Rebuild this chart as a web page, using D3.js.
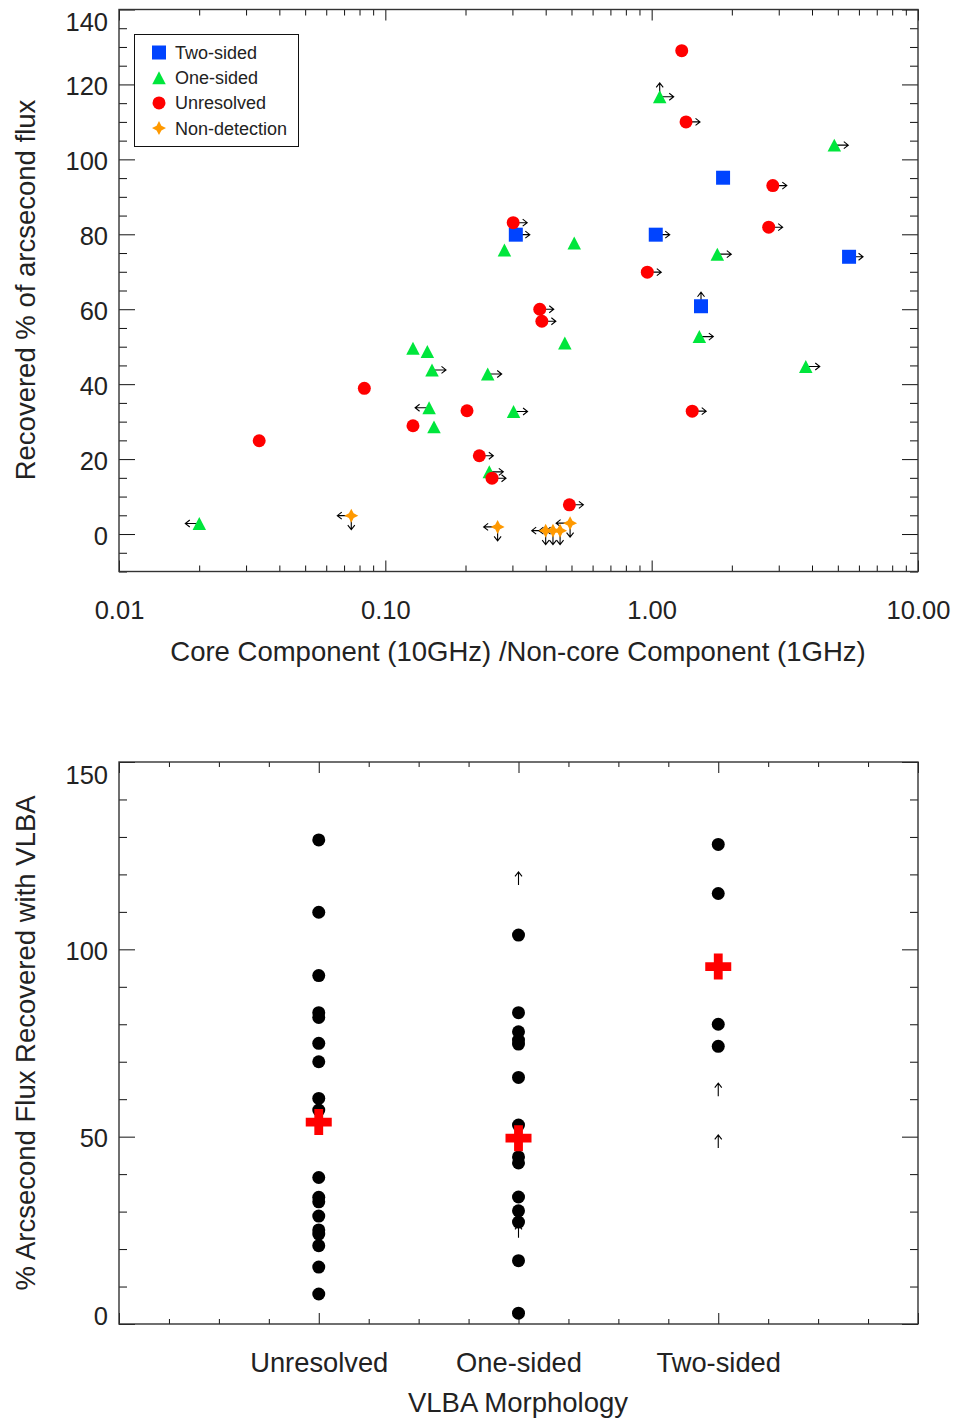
<!DOCTYPE html>
<html><head><meta charset="utf-8">
<script src="https://cdn.jsdelivr.net/npm/d3@7/dist/d3.min.js"></script>
<style>
body{margin:0;background:#fff}
text{font-family:"Liberation Sans",Arial,Helvetica,sans-serif;fill:#222}
</style>
</head><body>
<svg id="chart" width="954" height="1418" xmlns="http://www.w3.org/2000/svg"></svg>
<script>
// ---------------- DATA (top panel) ----------------
// limit flags: r = right arrow, l = left arrow, u = up arrow, d = down arrow
const twoSidedX   = [1.854, 0.309, 1.036, 5.51, 1.532];
const twoSidedY   = [95.1, 79.9, 79.9, 74.0, 60.8];
const twoSidedLim = ["", "r", "r", "r", "u"];

const oneSidedX   = [1.072, 4.85, 0.280, 0.512, 1.764, 0.472, 1.51, 3.79, 0.303, 0.127, 0.1438, 0.1497, 0.2423, 0.146, 0.1523, 0.2457, 0.02002];
const oneSidedY   = [116.7, 103.8, 75.8, 77.7, 74.7, 51.0, 52.7, 44.7, 32.7, 49.6, 48.7, 43.8, 42.7, 33.7, 28.6, 16.6, 2.8];
const oneSidedLim = ["ur", "r", "", "", "r", "", "r", "r", "r", "", "", "r", "r", "l", "", "r", "l"];

const unresolvedX   = [1.297, 1.346, 2.85, 2.75, 0.302, 0.963, 0.380, 0.387, 1.42, 0.491, 0.0834, 0.2026, 0.127, 0.0336, 0.2254, 0.2515];
const unresolvedY   = [129.0, 110.0, 93.0, 81.9, 83.1, 69.9, 60.0, 56.8, 32.8, 7.8, 38.9, 32.9, 28.9, 24.9, 20.9, 14.9];
const unresolvedLim = ["", "r", "r", "r", "r", "r", "r", "r", "r", "r", "", "", "", "", "r", "r"];

const nonDetX   = [0.0745, 0.264, 0.400, 0.426, 0.453, 0.494];
const nonDetY   = [4.9, 1.9, 0.9, 0.9, 0.9, 2.9];
const nonDetLim = ["ld", "ld", "ld", "ld", "ld", "ld"];

const legendLabels = ["Two-sided", "One-sided", "Unresolved", "Non-detection"];
const topXTicks = [0.01, 0.1, 1, 10];
const topYTicks = [0, 20, 40, 60, 80, 100, 120, 140];
const topXTitle = "Core Component (10GHz) /Non-core Component (1GHz)";
const topYTitle = "Recovered % of arcsecond flux";

// ---------------- DATA (bottom panel) ----------------
const categories = ["Unresolved", "One-sided", "Two-sided"];
const unresolvedVals = [129.2, 109.9, 93.0, 83.1, 81.8, 74.9, 70.0, 60.2, 57.1, 39.1, 33.8, 32.6, 28.8, 25.1, 24.0, 20.9, 15.2, 8.0];
const oneSidedVals   = [103.8, 83.1, 78.0, 75.8, 74.7, 65.8, 53.1, 44.6, 43.0, 33.9, 30.2, 27.2, 16.9, 2.9];
const twoSidedVals   = [128.0, 114.9, 80.0, 74.1];
const oneSidedLower  = [117.2, 23.0];
const twoSidedLower  = [60.8, 47.0];
const unresolvedLower = [];
const groupMeans = [53.9, 49.6, 95.4];
const botYTicks = [0, 50, 100, 150];
const botXTitle = "VLBA Morphology";
const botYTitle = "% Arcsecond Flux Recovered with VLBA";

// ---------------- STYLE ----------------
const COL = {two: "#0044ff", one: "#00e63c", unres: "#ff0000", non: "#ff9900"};
const svg = d3.select("#chart");
svg.append("rect").attr("width", 954).attr("height", 1418).attr("fill", "#fff");

// custom symbols
const symSquare = {draw(ctx, s){ const h = s/2; ctx.rect(-h, -h, s, s); }};
const symTri = {draw(ctx, s){ const w = s/2, h = s*0.48; ctx.moveTo(0, -h); ctx.lineTo(w, h); ctx.lineTo(-w, h); ctx.closePath(); }};
const symCircle = {draw(ctx, s){ const r = s/2; ctx.moveTo(r, 0); ctx.arc(0, 0, r, 0, 2*Math.PI); }};
const symStar4 = {draw(ctx, s){ const r = s/2, q = s*0.17; ctx.moveTo(0, -r); ctx.lineTo(q, -q); ctx.lineTo(r, 0); ctx.lineTo(q, q); ctx.lineTo(0, r); ctx.lineTo(-q, q); ctx.lineTo(-r, 0); ctx.lineTo(-q, -q); ctx.closePath(); }};
const symPlus = {draw(ctx, s){ const a = s/2, t = s*0.17; ctx.moveTo(-t, -a); ctx.lineTo(t, -a); ctx.lineTo(t, -t); ctx.lineTo(a, -t); ctx.lineTo(a, t); ctx.lineTo(t, t); ctx.lineTo(t, a); ctx.lineTo(-t, a); ctx.lineTo(-t, t); ctx.lineTo(-a, t); ctx.lineTo(-a, -t); ctx.lineTo(-t, -t); ctx.closePath(); }};
function symPath(type, size){ const p = d3.path(); type.draw(p, size); return p.toString(); }

function arrowPath(x, y, dir, L){
  const v = {r:[1,0], l:[-1,0], u:[0,-1], d:[0,1]}[dir];
  const tx = x + v[0]*L, ty = y + v[1]*L;
  const hb = 4.5, hw = 3.5;
  const bx = tx - v[0]*hb, by = ty - v[1]*hb;
  const px = -v[1]*hw, py = v[0]*hw;
  return `M${x},${y}L${tx},${ty}M${bx+px},${by+py}L${tx},${ty}L${bx-px},${by-py}`;
}

function frameAxes(g, x, y, o){
  const [x0, x1] = x.range(), [y0, y1] = y.range();
  const fmtNone = () => "";
  // bottom
  g.append("g").attr("transform", `translate(0,${y0})`)
    .call(d3.axisBottom(x).tickValues(o.xMinor).tickSizeInner(-o.xMinLen).tickSizeOuter(0).tickFormat(fmtNone));
  const bx = g.append("g").attr("class", "xmaj").attr("transform", `translate(0,${y0})`)
    .call(d3.axisBottom(x).tickValues(o.xMajor).tickSizeInner(-o.xMajLen).tickSizeOuter(0).tickPadding(o.xPad).tickFormat(o.xFmt));
  // top
  g.append("g").attr("transform", `translate(0,${y1})`)
    .call(d3.axisTop(x).tickValues(o.xMinor).tickSizeInner(-o.xMinLen).tickSizeOuter(0).tickFormat(fmtNone));
  g.append("g").attr("transform", `translate(0,${y1})`)
    .call(d3.axisTop(x).tickValues(o.xMajor).tickSizeInner(-o.xMajLen).tickSizeOuter(0).tickFormat(fmtNone));
  // left
  g.append("g").attr("transform", `translate(${x0},0)`)
    .call(d3.axisLeft(y).tickValues(o.yMinor).tickSizeInner(-o.yMinLen).tickSizeOuter(0).tickFormat(fmtNone));
  const ly = g.append("g").attr("class", "ymaj").attr("transform", `translate(${x0},0)`)
    .call(d3.axisLeft(y).tickValues(o.yMajor).tickSizeInner(-o.yMajLen).tickSizeOuter(0).tickPadding(11).tickFormat(d3.format("d")));
  // right
  g.append("g").attr("transform", `translate(${x1},0)`)
    .call(d3.axisRight(y).tickValues(o.yMinor).tickSizeInner(-o.yMinLen).tickSizeOuter(0).tickFormat(fmtNone));
  g.append("g").attr("transform", `translate(${x1},0)`)
    .call(d3.axisRight(y).tickValues(o.yMajor).tickSizeInner(-o.yMajLen).tickSizeOuter(0).tickFormat(fmtNone));
  g.selectAll(".domain").remove();
  g.selectAll(".tick line").attr("stroke", "#111").attr("stroke-width", 1);
  g.selectAll(".tick text").attr("font-family", null).style("fill", "#222");
  bx.selectAll(".tick text").attr("font-size", o.xFont);
  ly.selectAll(".tick text").attr("font-size", 25.5);
  // labels sit slightly below their ticks; edge labels nudged inward like the original plotting package
  const [dMin, dMax] = y.domain();
  ly.selectAll(".tick text").attr("transform", d => d === dMax ? `translate(0,${o.topShift})` : (d === dMin ? `translate(0,${o.botShift})` : "translate(0,2)"));
  g.append("rect").attr("x", x0).attr("y", y1).attr("width", x1 - x0).attr("height", y0 - y1)
    .attr("fill", "none").attr("stroke", "#333").attr("stroke-width", 1.4);
}

// ================= TOP PANEL =================
const xT = d3.scaleLog().domain([0.01, 10]).range([119, 918]);
const yT = d3.scaleLinear().domain([-10, 140]).range([571.5, 9.5]);
const gT = svg.append("g");

const xMinorT = [];
[0.01, 0.1, 1].forEach(d => { for (let k = 2; k <= 9; k++) xMinorT.push(d*k); });
const yMinorT = d3.range(-10, 141, 5).filter(v => v % 20 !== 0);

frameAxes(gT, xT, yT, {
  xMajor: topXTicks, xMinor: xMinorT, xMajLen: 11, xMinLen: 6, xPad: 29, xFmt: d3.format(".2f"), xFont: 25.5,
  yMajor: topYTicks, yMinor: yMinorT, yMajLen: 16, yMinLen: 8, topShift: 12.5, botShift: 2
});

const series = [
  {x: twoSidedX, y: twoSidedY, lim: twoSidedLim, sym: symSquare, size: 14, col: COL.two},
  {x: oneSidedX, y: oneSidedY, lim: oneSidedLim, sym: symTri, size: 13.5, col: COL.one},
  {x: unresolvedX, y: unresolvedY, lim: unresolvedLim, sym: symCircle, size: 13, col: COL.unres},
  {x: nonDetX, y: nonDetY, lim: nonDetLim, sym: symStar4, size: 14, col: COL.non}
];

// arrows (beneath markers)
const arrowG = gT.append("g");
series.forEach(s => {
  s.x.forEach((xv, i) => {
    const cx = xT(xv), cy = yT(s.y[i]);
    s.lim[i].split("").forEach(dir => {
      arrowG.append("path").attr("d", arrowPath(cx, cy, dir, 14))
        .attr("fill", "none").attr("stroke", "#000").attr("stroke-width", 1.1);
    });
  });
});
series.forEach(s => {
  gT.append("g").selectAll("path").data(s.x.map((xv, i) => [xv, s.y[i]])).join("path")
    .attr("d", symPath(s.sym, s.size))
    .attr("transform", d => `translate(${xT(d[0])},${yT(d[1])})`)
    .attr("fill", s.col);
});

// legend
const lg = gT.append("g");
lg.append("rect").attr("x", 134.5).attr("y", 34.5).attr("width", 164).attr("height", 112)
  .attr("fill", "#fff").attr("stroke", "#111").attr("stroke-width", 1);
legendLabels.forEach((lab, i) => {
  const cy = 52.5 + i*25.2;
  lg.append("path").attr("d", symPath(series[i].sym, series[i].size)).attr("transform", `translate(159,${cy})`).attr("fill", series[i].col);
  lg.append("text").attr("x", 175).attr("y", cy + 6.5).attr("font-size", 18).text(lab);
});

// titles
gT.append("text").attr("x", 518).attr("y", 661).attr("text-anchor", "middle").attr("font-size", 27.5).text(topXTitle);
gT.append("text").attr("transform", "translate(35,290) rotate(-90)").attr("text-anchor", "middle").attr("font-size", 27.5).text(topYTitle);

// ================= BOTTOM PANEL =================
const xB = d3.scaleLinear().domain([0, 4]).range([119, 918]);
const yB = d3.scaleLinear().domain([0, 150]).range([1324, 762]);
const gB = svg.append("g");
frameAxes(gB, xB, yB, {
  xMajor: [0, 1, 2, 3, 4], xMinor: d3.range(0, 4.01, 0.25).filter(v => v % 1 !== 0), xMajLen: 11, xMinLen: 5, xPad: 28.6,
  xFmt: d => categories[d - 1] || "", xFont: 27.3,
  yMajor: botYTicks, yMinor: d3.range(0, 151, 10).filter(v => v % 50 !== 0), yMajLen: 16, yMinLen: 8, topShift: 13, botShift: -8
});

const groups = [unresolvedVals, oneSidedVals, twoSidedVals];
const lowers = [unresolvedLower, oneSidedLower, twoSidedLower];
lowers.forEach((arr, gi) => {
  gB.append("g").selectAll("path").data(arr).join("path")
    .attr("d", v => arrowPath(xB(gi + 1), yB(v), "u", 13))
    .attr("fill", "none").attr("stroke", "#000").attr("stroke-width", 1.1);
});
groups.forEach((arr, gi) => {
  gB.append("g").selectAll("path").data(arr).join("path")
    .attr("d", symPath(symCircle, 13))
    .attr("transform", v => `translate(${xB(gi + 1)},${yB(v)})`)
    .attr("fill", "#000");
});
gB.append("g").selectAll("path").data(groupMeans).join("path")
  .attr("d", symPath(symPlus, 26))
  .attr("transform", (v, i) => `translate(${xB(i + 1)},${yB(v)})`)
  .attr("fill", "#ff0000");

gB.append("text").attr("x", 518).attr("y", 1412).attr("text-anchor", "middle").attr("font-size", 27.5).text(botXTitle);
gB.append("text").attr("transform", "translate(35,1043) rotate(-90)").attr("text-anchor", "middle").attr("font-size", 27.5).text(botYTitle);
</script>
</body></html>
